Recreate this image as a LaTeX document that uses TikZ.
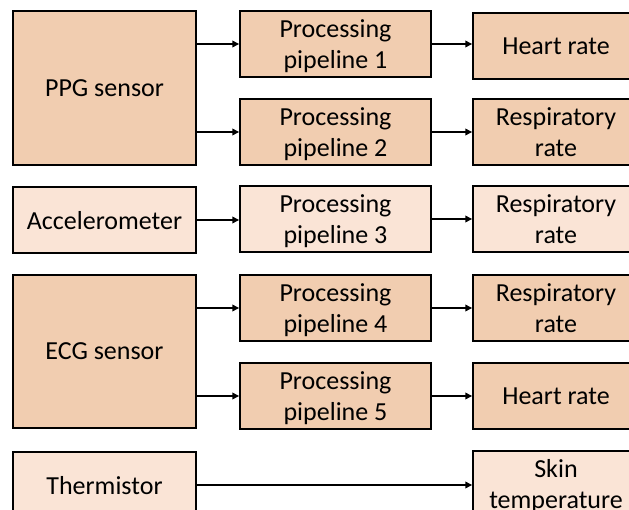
\documentclass[tikz,border=0pt]{standalone}
\usepackage{fontspec}
\setmainfont{Carlito}
\usetikzlibrary{arrows.meta}

\definecolor{peachdark}{RGB}{241,205,176}
\definecolor{peachlight}{RGB}{250,228,214}

\def \colleft {104.5}
\def \colmid {335.5}
\def \colright {556}
\tikzstyle{block}=[draw, line width=1.4pt, align=center, inner sep=0pt, text depth=0pt, font=\fontsize{19.5}{23.5}\selectfont]
\tikzstyle{sensorbox}=[block, minimum width=183*0.75pt, minimum height=66*0.75pt]
\tikzstyle{pipebox}=[block, minimum width=191*0.75pt, minimum height=66*0.75pt]
\tikzstyle{outbox}=[block, minimum width=166*0.75pt, minimum height=66*0.75pt]
\tikzstyle{link}=[-{Triangle[length=5pt,width=5pt]}, line width=0.9pt]

\begin{document}
\begin{tikzpicture}[x=0.75pt, y=-0.75pt]

\path[use as bounding box, clip] (0,0) rectangle (629,510);

% sensors
\node[sensorbox, fill=peachdark, minimum height=154*0.75pt] (PPG) at (\colleft, 88) {PPG sensor};
\node[sensorbox, fill=peachlight] (ACC) at (\colleft, 220) {Accelerometer};
\node[sensorbox, fill=peachdark, minimum height=153*0.75pt] (ECG) at (\colleft, 351.5) {ECG sensor};
\node[sensorbox, fill=peachlight] (THM) at (\colleft, 485) {Thermistor};

% pipelines
\node[pipebox, fill=peachdark] (P1) at (\colmid, 44) {Processing\\pipeline 1};
\node[pipebox, fill=peachdark] (P2) at (\colmid, 132) {Processing\\pipeline 2};
\node[pipebox, fill=peachlight] (P3) at (\colmid, 219) {Processing\\pipeline 3};
\node[pipebox, fill=peachdark] (P4) at (\colmid, 308) {Processing\\pipeline 4};
\node[pipebox, fill=peachdark] (P5) at (\colmid, 396) {Processing\\pipeline 5};

% outputs
\node[outbox, fill=peachdark] (O1) at (\colright, 46) {Heart rate};
\node[outbox, fill=peachdark] (O2) at (\colright, 132) {Respiratory\\rate};
\node[outbox, fill=peachlight] (O3) at (\colright, 219) {Respiratory\\rate};
\node[outbox, fill=peachdark] (O4) at (\colright, 308) {Respiratory\\rate};
\node[outbox, fill=peachdark] (O5) at (\colright, 396) {Heart rate};
\node[outbox, fill=peachlight] (O6) at (\colright, 484) {Skin\\temperature};

\draw[link] (PPG.east |- P1) -- (P1);
\draw[link] (PPG.east |- P2) -- (P2);
\draw[link] (ACC) -- (ACC -| P3.west);
\draw[link] (ECG.east |- P4) -- (P4);
\draw[link] (ECG.east |- P5) -- (P5);

\foreach \x in {1, ..., 5}
    \draw[link] (P\x.east) -- (P\x.east -| O\x.west);

\draw[link] (THM) -- (THM -| O6.west);

\end{tikzpicture}
\end{document}
